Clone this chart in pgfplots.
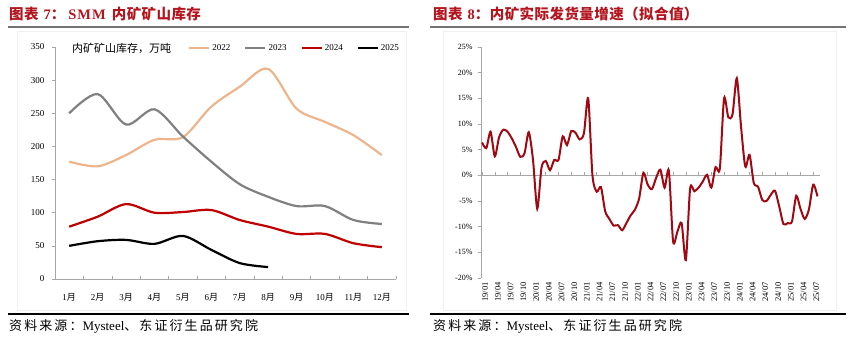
\documentclass[border=0pt]{standalone}
\usepackage{pgfplots}
\pgfplotsset{compat=1.18}
\usepackage{fontspec}
\setmainfont{Liberation Serif}
\newfontfamily\cjk{Noto Sans CJK SC}
\newfontfamily\cjkls[LetterSpace=16]{Noto Sans CJK SC}
\newfontfamily\cjkt[LetterSpace=3]{Noto Sans CJK SC}
\definecolor{titlered}{RGB}{180,20,30}
\definecolor{c22}{RGB}{238,180,140}
\definecolor{c23}{RGB}{128,128,128}
\definecolor{c24}{RGB}{192,0,0}
\definecolor{c25}{RGB}{0,0,0}
\definecolor{lred}{RGB}{160,8,18}
\definecolor{axgray}{RGB}{166,166,166}
\begin{document}
\begin{tikzpicture}
\path[use as bounding box] (0pt,0pt) rectangle (850pt,342pt);
% chart area frames
\draw[gray!12, line width=0.6pt] (17pt,32pt) rectangle (406pt,311pt);
\draw[gray!12, line width=0.6pt] (443pt,32pt) rectangle (836pt,311pt);
% titles
\node[anchor=west, text=titlered, font=\fontsize{14.5}{15}\selectfont\bfseries, inner sep=0pt] at (9pt,328pt) {{\cjkt 图表\hspace{5pt}}7{\cjkt ：}\hspace{3pt}S\hspace{1pt}M\hspace{1pt}M\hspace{6pt}{\cjkt 内矿矿山库存}};
\node[anchor=west, text=titlered, font=\fontsize{14.5}{15}\selectfont\bfseries, inner sep=0pt] at (433pt,328pt) {{\cjkt 图表\hspace{5pt}}8{\cjkt ：内矿实际发货量增速（拟合值）}};
\draw[line width=1.5pt, color=gray!90!black] (8pt,315pt) -- (409pt,315pt);
\draw[line width=1.5pt, color=gray!90!black] (430pt,315pt) -- (846pt,315pt);
% footers
\draw[line width=1.2pt] (8pt,28pt) -- (409pt,28pt);
\draw[line width=1.2pt] (430pt,28pt) -- (846pt,28pt);
\node[anchor=west, font=\fontsize{13}{14}\selectfont, inner sep=0pt] at (9pt,16pt) {{\cjkls 资料来源：}Mysteel{\cjkls 、东证衍生品研究院}};
\node[anchor=west, font=\fontsize{13}{14}\selectfont, inner sep=0pt] at (433pt,16pt) {{\cjkls 资料来源：}Mysteel{\cjkls 、东证衍生品研究院}};
% legend text
\node[anchor=west, font=\fontsize{11}{12}\selectfont\cjk, inner sep=0pt] at (72pt,294pt) {内矿矿山库存，万吨};

\begin{axis}[
  at={(55pt,63pt)}, anchor=south west, scale only axis,
  width=341pt, height=232pt,
  xmin=0.5, xmax=12.5, ymin=0, ymax=350,
  axis lines=left, axis line style={-, axgray, line width=0.8pt},
  xtick={1,...,12},
  xticklabels={1{\cjk 月},2{\cjk 月},3{\cjk 月},4{\cjk 月},5{\cjk 月},6{\cjk 月},7{\cjk 月},8{\cjk 月},9{\cjk 月},10{\cjk 月},11{\cjk 月},12{\cjk 月}},
  xtick style={draw=none},
  xticklabel style={font=\fontsize{9}{9}\selectfont, yshift=-8pt},
  ytick={0,50,...,350},
  ytick style={axgray, line width=0.6pt},
  tick align=outside, major tick length=3pt,
  yticklabel style={font=\fontsize{9}{9}\selectfont, xshift=-4pt},
  /pgf/number format/assume math mode=true,
  clip=false,
  legend columns=4,
  legend style={at={(0.39,0.996)}, anchor=west, draw=none, fill=none, inner sep=0pt,
    font=\fontsize{9}{9}\selectfont,
    /tikz/every even column/.append style={column sep=12pt}},
  legend image code/.code={\draw[#1] (0pt,0pt) -- (20pt,0pt);},
]
\pgfplotsinvokeforeach{1.5,2.5,...,12.5}{\draw[axgray, line width=0.6pt] (axis cs:#1,0) -- ([yshift=3pt]axis cs:#1,0);}
\addplot[c22, line width=2.2pt, smooth, tension=0.5] coordinates {(1,177)(2,170)(3,187)(4,210)(5,214)(6,260)(7,290)(8,317)(9,257)(10,237)(11,217)(12,187)};
\addlegendentry{2022}
\addplot[c23, line width=2.2pt, smooth, tension=0.5] coordinates {(1,250)(2,279)(3,233)(4,256)(5,215)(6,177)(7,143)(8,124)(9,110)(10,110)(11,89)(12,83)};
\addlegendentry{2023}
\addplot[c24, line width=2.2pt, smooth, tension=0.5] coordinates {(1,79)(2,94)(3,113)(4,100)(5,101)(6,104)(7,89)(8,79)(9,68)(10,68)(11,54)(12,48)};
\addlegendentry{2024}
\addplot[c25, line width=2.2pt, smooth, tension=0.5] coordinates {(1,50)(2,57)(3,59)(4,53)(5,65)(6,44)(7,24)(8,18)};
\addlegendentry{2025}
\end{axis}

\begin{axis}[
  at={(481pt,64pt)}, anchor=south west, scale only axis,
  width=339pt, height=231pt,
  xmin=-0.25, xmax=79.6, ymin=-20, ymax=25,
  axis lines=left, axis line style={-, axgray, line width=0.8pt},
  x axis line style={draw=none},
  xtick={0,3,...,78},
  xticklabels={19/01,19/04,19/07,19/10,20/01,20/04,20/07,20/10,21/01,21/04,21/07,21/10,22/01,22/04,22/07,22/10,23/01,23/04,23/07,23/10,24/01,24/04,24/07,24/10,25/01,25/04,25/07},
  xtick style={draw=none},
  xticklabel style={rotate=90, anchor=east, font=\fontsize{8.5}{9}\selectfont, inner sep=1pt, yshift=-3pt},
  ytick={-20,-15,...,25},
  yticklabels={-20\%,-15\%,-10\%,-5\%,0\%,5\%,10\%,15\%,20\%,25\%},
  ytick style={axgray, line width=0.6pt},
  tick align=outside, major tick length=3pt,
  yticklabel style={font=\fontsize{8}{9}\selectfont, xshift=-2pt},
  clip=false,
]
\draw[axgray, line width=0.8pt] (axis cs:-0.25,0) -- (axis cs:79.6,0);
\pgfplotsinvokeforeach{0,3,...,78}{\draw[axgray, line width=0.6pt] (axis cs:#1,0) -- ([yshift=3pt]axis cs:#1,0);}
\addplot[lred, line width=2pt, smooth, tension=0.45] coordinates {(0,6.4)(1,5.3)(2,8.5)(3,3.7)(4,7.4)(5,8.9)(6,8.5)(7,7.2)(8,5.5)(9,3.6)(10,4.3)(11,8.4)(12,3.0)(13,-6.5)(14,1.5)(15,2.8)(16,1.0)(17,3.0)(18,3.0)(19,7.6)(20,5.9)(21,8.6)(22,8.3)(23,7.0)(24,8.2)(25,15.0)(26,0.0)(27,-3.2)(28,-2.3)(29,-7.0)(30,-8.5)(31,-9.8)(32,-9.7)(33,-10.7)(34,-9.3)(35,-7.8)(36,-6.7)(37,-4.5)(38,0.5)(39,-1.8)(40,-2.7)(41,-0.5)(42,1.1)(43,-2.4)(44,0.9)(45,-12.9)(46,-11.0)(47,-9.3)(48,-16.5)(49,-2.6)(50,-3.1)(51,-2.4)(52,-1.2)(53,0.1)(54,-2.4)(55,1.6)(56,1.3)(57,15.0)(58,11.3)(59,11.9)(60,18.9)(61,9.5)(62,1.7)(63,4.0)(64,-1.5)(65,-2.2)(66,-4.8)(67,-5.0)(68,-3.8)(69,-3.0)(70,-6.1)(71,-9.5)(72,-9.3)(73,-9.0)(74,-4.0)(75,-6.5)(76,-8.5)(77,-6.6)(78,-1.8)(79,-4.1)};
\end{axis}
\end{tikzpicture}
\end{document}
